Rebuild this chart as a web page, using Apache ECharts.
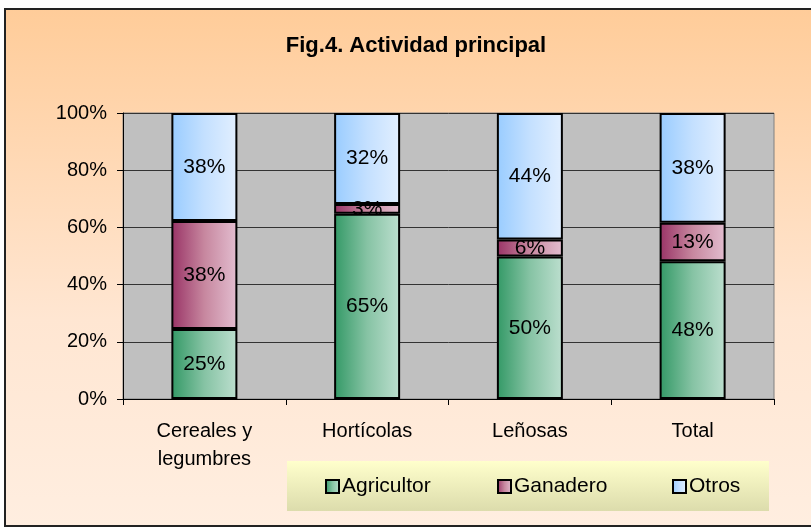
<!DOCTYPE html>
<html>
<head>
<meta charset="utf-8">
<script src="https://cdn.jsdelivr.net/npm/echarts@6/dist/echarts.min.js"></script>
<style>
  html, body { margin: 0; padding: 0; background: #fff; }
  #main { width: 811px; height: 529px; }
</style>
</head>
<body>
<div id="main"></div>
<script>
var categories = ['Cereales y\nlegumbres', 'Hortícolas', 'Leñosas', 'Total'];
var seriesNames = ['Agricultor', 'Ganadero', 'Otros'];
// shares in percent
var agricultor = [24.5, 64.8, 49.8, 48.2];
var ganadero = [37.7, 3.4, 6.0, 13.4];
var otros = [37.8, 31.8, 44.2, 38.4];
var yTicks = [0, 20, 40, 60, 80, 100];

var fontFam = '"Liberation Sans", Arial, sans-serif';

function hGrad(c0, c1, c2) {
    return new echarts.graphic.LinearGradient(0, 0, 1, 0, [
        { offset: 0, color: c0 },
        { offset: 0.5, color: c1 },
        { offset: 1, color: c2 }
    ]);
}

var colors = [
    hGrad('#339966', '#86c3a4', '#bddfcf'),
    hGrad('#993366', '#c7879f', '#e3bed0'),
    hGrad('#99ccff', '#c4e0ff', '#e2efff')
];

function makeSeries(name, data, idx) {
    return {
        name: name,
        type: 'bar',
        stack: 'total',
        barWidth: 66,
        data: data,
        itemStyle: {
            color: colors[idx],
            borderColor: '#000',
            borderWidth: 2
        },
        label: {
            show: true,
            position: 'inside',
            color: '#000',
            fontSize: 21,
            fontFamily: fontFam,
            formatter: function (p) { return Math.round(p.value) + '%'; }
        }
    };
}

function makeLegend(name, left) {
    return {
        data: [name],
        left: left,
        top: 471,
        icon: 'rect',
        itemWidth: 13,
        itemHeight: 13,
        itemGap: 0,
        itemStyle: { borderColor: '#000', borderWidth: 2 },
        textStyle: { fontSize: 21, color: '#000', fontFamily: fontFam, padding: [0, 0, 0, -2] }
    };
}

var chart = echarts.init(document.getElementById('main'));

var option = {
    animation: false,
    title: {
        text: 'Fig.4. Actividad principal',
        left: 411,
        textAlign: 'center',
        top: 30,
        textStyle: {
            fontSize: 22,
            fontWeight: 'bold',
            color: '#000',
            fontFamily: '"Liberation Sans Narrow", "Liberation Sans", Arial, sans-serif'
        }
    },
    graphic: [
        {
            type: 'rect',
            z: -100,
            silent: true,
            shape: { x: 5, y: 9, width: 820, height: 517 },
            style: {
                fill: new echarts.graphic.LinearGradient(0, 0, 0, 1, [
                    { offset: 0, color: '#ffcc99' },
                    { offset: 0.6, color: '#ffe6d2' },
                    { offset: 1, color: '#ffeee0' }
                ]),
                stroke: '#222',
                lineWidth: 2
            }
        },
        {
            type: 'rect',
            z: -50,
            silent: true,
            shape: { x: 287, y: 461, width: 482, height: 50 },
            style: {
                fill: new echarts.graphic.LinearGradient(0, 0, 0, 1, [
                    { offset: 0, color: '#ffffcc' },
                    { offset: 1, color: '#dcdcac' }
                ])
            }
        }
    ],
    legend: [
        makeLegend('Agricultor', 320),
        makeLegend('Ganadero', 492),
        makeLegend('Otros', 667)
    ],
    grid: {
        left: 123,
        right: 37,
        top: 113,
        bottom: 130,
        show: true,
        backgroundColor: '#c0c0c0',
        borderColor: '#808080',
        borderWidth: 1
    },
    xAxis: {
        type: 'category',
        data: categories,
        axisLine: { lineStyle: { color: '#000', width: 1 } },
        axisTick: { show: true, length: 6, lineStyle: { color: '#000' } },
        axisLabel: {
            color: '#000',
            fontSize: 20,
            fontFamily: fontFam,
            lineHeight: 28,
            margin: 18,
            interval: 0
        }
    },
    yAxis: {
        type: 'value',
        min: yTicks[0],
        max: yTicks[yTicks.length - 1],
        interval: 20,
        axisLine: { show: true, lineStyle: { color: '#000', width: 1 } },
        axisTick: { show: true, length: 6, lineStyle: { color: '#000' } },
        splitLine: { show: true, lineStyle: { color: '#333', width: 1 } },
        axisLabel: {
            color: '#000',
            fontSize: 20,
            fontFamily: fontFam,
            margin: 16,
            formatter: '{value}%'
        }
    },
    series: [
        makeSeries(seriesNames[0], agricultor, 0),
        makeSeries(seriesNames[1], ganadero, 1),
        makeSeries(seriesNames[2], otros, 2)
    ]
};

chart.setOption(option);
</script>
</body>
</html>
